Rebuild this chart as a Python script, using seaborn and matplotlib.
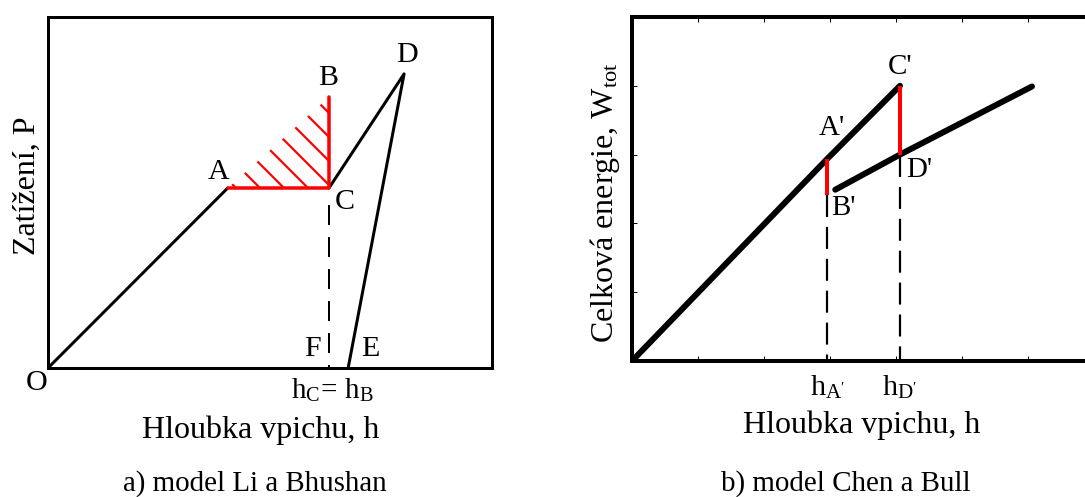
import matplotlib
matplotlib.use("Agg")
import matplotlib.pyplot as plt
import seaborn as sns

# ---------------- data ----------------
# panel a) model Li a Bhushan  (h, P)
a_load_h = [0.0, 4.05]
a_load_P = [0.0, 5.13]
a_unload_h = [6.33, 8.02, 6.76]
a_unload_P = [5.13, 8.38, 0.0]
a_tri_h = [4.05, 6.33, 6.33]      # A, C, B
a_tri_P = [5.13, 5.13, 7.72]
a_hC = 6.33
a_labels = ["A", "B", "C", "D", "E", "F"]
a_label_h = [3.83, 6.31, 6.69, 8.09, 7.27, 5.95]
a_label_P = [5.58, 8.26, 4.73, 8.92, 0.54, 0.54]

# panel b) model Chen a Bull  (h, W_tot)
b_upper_h = [0.0, 2.96, 4.06]
b_upper_W = [0.0, 2.94, 4.0]
b_lower_h = [3.08, 4.06, 6.06]
b_lower_W = [2.49, 3.0, 3.99]
b_drop_h = [2.96, 4.06]
b_drop_top = [2.94, 4.0]
b_drop_bot = [2.42, 3.0]
b_xticks = [1, 2, 3, 4, 5, 6]
b_yticks = [1, 2, 3, 4]
b_ticklabels = ["h$_{\\mathregular{A'}}$", "h$_{\\mathregular{D'}}$"]
b_labels = ["A'", "C'", "D'", "B'"]
b_label_h = [3.03, 4.06, 4.35, 3.21]
b_label_W = [3.38, 4.27, 2.77, 2.23]

# ---------------- style ----------------
sns.set_theme(style="white")
plt.rcParams["font.family"] = ["Liberation Serif", "DejaVu Serif"]
plt.rcParams["mathtext.fontset"] = "stix"
plt.rcParams["hatch.linewidth"] = 2.2
plt.rcParams["hatch.color"] = "red"
plt.rcParams["text.color"] = "black"
plt.rcParams["axes.labelcolor"] = "black"
plt.rcParams["xtick.color"] = "black"
plt.rcParams["ytick.color"] = "black"

W, H = 1085, 497
fig = plt.figure(figsize=(W / 72, H / 72), dpi=72)
fig.patch.set_facecolor("white")

RED = "#ff0000"

# ============ panel a ============
axa = fig.add_axes([48 / W, (H - 368) / H, 444 / W, 351 / H])
axa.set_xlim(0, 10)
axa.set_ylim(0, 10)

sns.lineplot(x=a_load_h, y=a_load_P, ax=axa, color="black", lw=3, sort=False,
             estimator=None)
sns.lineplot(x=a_unload_h, y=a_unload_P, ax=axa, color="black", lw=3, sort=False,
             estimator=None)
axa.fill(a_tri_h, a_tri_P, facecolor="none", edgecolor=RED, hatch="\\", lw=0)
sns.lineplot(x=a_tri_h, y=a_tri_P, ax=axa, color=RED, lw=3.5, sort=False,
             estimator=None)
axa.plot([a_hC, a_hC], [a_tri_P[1] - 0.5, 0], color="black", lw=2, ls=(0, (10, 6)))

for t, x, y in zip(a_labels, a_label_h, a_label_P):
    axa.text(x, y, t, fontsize=30, ha="center", va="center")
axa.text(-0.25, -0.43, "O", fontsize=30, ha="center", va="center", clip_on=False)
axa.text(a_hC + 0.07, -0.22, "h$_{\\mathregular{C}}$= h$_{\\mathregular{B}}$",
         fontsize=29, ha="center", va="top", clip_on=False)

axa.set_xticks([])
axa.set_yticks([])
for s in axa.spines.values():
    s.set_visible(True)
    s.set_linewidth(3)
    s.set_color("black")
axa.set_xlabel("Hloubka vpichu, h", fontsize=32, va="center")
axa.xaxis.set_label_coords(0.48, -0.177)
axa.set_ylabel("Zatížení, P", fontsize=32, va="center")
axa.yaxis.set_label_coords(-0.047, 0.52)

fig.text(255 / W, 1 - 484 / H, "a) model Li a Bhushan", fontsize=29,
         ha="center", va="center")

# ============ panel b ============
axb = fig.add_axes([632 / W, (H - 361) / H, 462 / W, 344 / H])
axb.set_xlim(0, 7)
axb.set_ylim(0, 5)

sns.lineplot(x=b_upper_h, y=b_upper_W, ax=axb, color="black", lw=6, sort=False,
             estimator=None, solid_capstyle="round")
sns.lineplot(x=b_lower_h, y=b_lower_W, ax=axb, color="black", lw=6, sort=False,
             estimator=None, solid_capstyle="round")
for x, y0, y1 in zip(b_drop_h, b_drop_top, b_drop_bot):
    axb.plot([x, x], [y0, y1], color=RED, lw=4, solid_capstyle="butt")
    axb.plot([x, x], [y1, 0], color="black", lw=2.2, ls=(0, (10, 4.5)))

for t, x, y in zip(b_labels, b_label_h, b_label_W):
    axb.text(x, y, t, fontsize=29, ha="center", va="center")

axb.set_xticks(b_xticks)
axb.set_xticklabels([])
axb.set_yticks(b_yticks)
axb.set_yticklabels([])
axb.tick_params(axis="both", which="major", direction="in", length=5, width=1,
                top=True, bottom=True, left=True, color="black")
axb.set_xticks(b_drop_h, minor=True)
axb.set_xticklabels(b_ticklabels, minor=True, fontsize=30)
axb.tick_params(axis="x", which="minor", length=0, pad=12)
for s in axb.spines.values():
    s.set_visible(True)
    s.set_linewidth(4)
    s.set_color("black")
axb.set_xlabel("Hloubka vpichu, h", fontsize=32, va="center")
axb.xaxis.set_label_coords(0.498, -0.186)
axb.set_ylabel("Celková energie, W$_{\\mathregular{tot}}$", fontsize=32, va="center")
axb.yaxis.set_label_coords(-0.059, 0.46)

fig.text(846 / W, 1 - 484 / H, "b) model Chen a Bull", fontsize=29,
         ha="center", va="center")

fig.savefig("out.png", dpi=72, facecolor="white")
